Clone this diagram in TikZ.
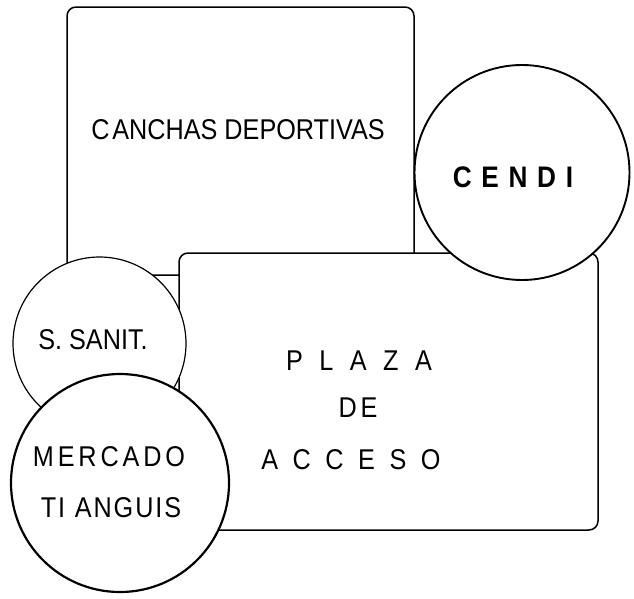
\documentclass[tikz,border=0pt]{standalone}
\usepackage{graphicx}
\usepackage{fontspec}
\setmainfont{Liberation Sans}
\newcommand\talltext[1]{\scalebox{0.97}[1.1]{#1}}
\begin{document}
\begin{tikzpicture}[x=1pt,y=-1pt,
  area/.style={draw=black, fill=white, line width=1.5pt, rounded corners=9pt, inner sep=0pt, rectangle},
  zone/.style={draw=black, fill=white, circle, inner sep=0pt},
  lbl/.style={font=\fontsize{26}{28}\selectfont, inner sep=0pt, anchor=center}]
\fill[white] (0,0) rectangle (634,598);
\useasboundingbox (0,0) rectangle (634,598);
\node[area, minimum width=347pt, minimum height=268pt] (canchas) at (240.5,141) {};
\node[area, minimum width=419pt, minimum height=277pt] (plaza) at (388.5,391.5) {};
\node[zone, line width=1.9pt, minimum size=215pt] (cendi) at (522,172.5) {};
\node[zone, line width=1.2pt, minimum size=173pt] (sanit) at (99.5,343.5) {};
\node[zone, line width=2.2pt, minimum size=218pt] (mercado) at (120,483) {};
\node[lbl] (tcanchas) at (238,130) {\talltext{C\hspace{3pt}ANCHAS DEPORTIVAS}};
\node[lbl, font=\fontsize{27}{29}\selectfont\bfseries] (tcendi) at (513,177) {\talltext{C\hspace{10pt}E\hspace{10pt}N\hspace{10pt}D\hspace{10pt}I}};
\node[lbl] (tsanit) at (93,340) {\talltext{S. SANIT.}};
\node[lbl] (tplaza) at (359,361) {\talltext{P\hspace{17pt}L\hspace{17pt}A\hspace{17pt}Z\hspace{17pt}A}};
\node[lbl] (tde) at (358,408) {\talltext{D\hspace{4pt}E}};
\node[lbl] (tacceso) at (351,460) {\talltext{A\hspace{15pt}C\hspace{15pt}C\hspace{15pt}E\hspace{15pt}S\hspace{15pt}O}};
\node[lbl] (tmercado) at (109,457) {\talltext{M\hspace{4pt}E\hspace{4pt}R\hspace{4pt}C\hspace{4pt}A\hspace{4pt}D\hspace{4pt}O}};
\node[lbl] (ttianguis) at (111,508) {\talltext{T\hspace{2pt}I\hspace{10pt}A\hspace{2pt}N\hspace{2pt}G\hspace{2pt}U\hspace{2pt}I\hspace{2pt}S}};
\end{tikzpicture}
\end{document}
